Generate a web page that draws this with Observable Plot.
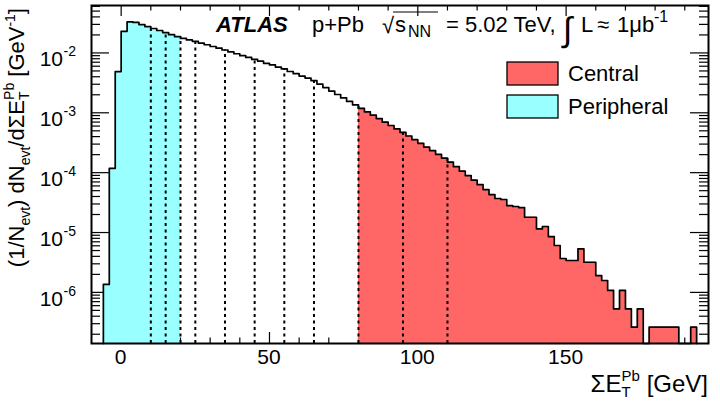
<!DOCTYPE html>
<html>
<head>
<meta charset="utf-8">
<script src="https://cdn.jsdelivr.net/npm/d3@7"></script>
<script src="https://cdn.jsdelivr.net/npm/@observablehq/plot@0.6"></script>
<style>
  html, body { margin: 0; padding: 0; background: #fff; }
  #chart svg { display: block; }
</style>
</head>
<body>
<div id="chart"></div>
<script>
// Sum of transverse energy on the Pb-going side, per-event normalised, 2 GeV bins from -6 GeV
const binLowEdge = -6;
const binWidth = 2;
const density = [
  1.36e-6, 1.18e-4, 4.88e-3, 0.0230, 0.0330, 0.0323, 0.0298, 0.0276, 0.0256, 0.0237,
  0.0219, 0.0202, 0.0187, 0.0175, 0.0165, 0.0156, 0.0146, 0.0137, 0.0128, 0.0120,
  0.0112, 0.0104, 0.0097, 0.0090, 0.0084, 0.0078, 0.0073, 0.0067, 0.0063, 0.0058,
  0.0054, 0.0049, 0.0045, 0.0041, 0.0038, 0.00345, 0.00302, 0.00264, 0.00231, 0.00202,
  0.00177, 0.00155, 0.00136, 0.00119, 0.00104, 0.000913, 0.000800, 0.000701, 0.000614, 0.000538,
  0.000472, 0.000410, 0.000356, 0.000309, 0.000268, 0.000233, 0.000202, 0.000175, 0.000150, 0.000126,
  0.000106, 8.95e-5, 7.52e-5, 6.32e-5, 5.22e-5, 4.31e-5, 3.70e-5, 3.56e-5, 2.82e-5, 2.72e-5,
  2.61e-5, 1.80e-5, 1.80e-5, 1.15e-5, 1.26e-5, 8.57e-6, 6.07e-6, 3.68e-6, 3.41e-6, 3.41e-6,
  5.35e-6, 3.19e-6, 3.19e-6, 1.91e-6, 1.58e-6, 1.08e-6, 5.32e-7, 1.08e-6, 5.32e-7, 2.62e-7,
  5.32e-7, 0, 2.62e-7, 2.62e-7, 2.62e-7, 2.62e-7, 2.62e-7, 0, 0, 2.62e-7
];

// Centrality class boundaries (GeV)
const cutEdges = [10, 15, 20, 25, 35, 45, 55, 65, 80, 95, 110];
const peripheralMax = 20;
const centralMin = 80;

// Axis ticks
const xTickLabels = [0, 50, 100, 150];
const yDecades = [-6, -5, -4, -3, -2];

const legendEntries = [
  {label: "Central", fill: "#ff6666"},
  {label: "Peripheral", fill: "#99ffff"}
];

const W = 720, H = 401;
const mL = 91, mR = 12, mT = 5, mB = 58;
const innerW = W - mL - mR, innerH = H - mT - mB;
const xDomain = [-10, 198];
const yMin = 1.4e-7, yMax = 0.062;

const bins = density.map((v, i) => ({
  x1: binLowEdge + i * binWidth,
  x2: binLowEdge + (i + 1) * binWidth,
  v
}));
const shown = v => (v > 0 ? v : yMin);

// step outline of the whole histogram
const outline = [
  {x: bins[0].x1, y: yMin},
  ...bins.map(b => ({x: b.x1, y: shown(b.v)})),
  {x: bins[bins.length - 1].x2, y: yMin}
];

function region(filter, endX) {
  const sel = bins.filter(filter);
  const pts = sel.map(b => ({x: b.x1, y: shown(b.v)}));
  pts.push({x: endX, y: shown(sel[sel.length - 1].v)});
  return pts;
}
const peripheralPts = region(b => b.x2 <= peripheralMax, peripheralMax);
const centralPts = region(b => b.x1 >= centralMin, bins[bins.length - 1].x2);

// height of the distribution at a boundary (taller of the touching bins)
function heightAt(x) {
  const touching = bins.filter(b => b.x1 <= x && x <= b.x2);
  return d3.max(touching, b => shown(b.v));
}

// tick positions
const xMajor = xTickLabels;
const xMinor = d3.range(-10, 200, 10).filter(v => v % 50 !== 0 && v > xDomain[0] && v < xDomain[1]);
const yMajor = yDecades.map(k => Math.pow(10, k));
const yMinor = [];
for (let k = -7; k <= -2; k++) {
  for (let m = 2; m <= 9; m++) {
    const v = m * Math.pow(10, k);
    if (v > yMin && v < yMax) yMinor.push(v);
  }
}

const tickStyle = {stroke: "black", strokeWidth: 1.2};

const chart = Plot.plot({
  width: W,
  height: H,
  marginLeft: mL,
  marginRight: mR,
  marginTop: mT,
  marginBottom: mB,
  style: {fontFamily: "'Liberation Sans', Arial, Helvetica, sans-serif", background: "white"},
  x: {domain: xDomain, axis: null},
  y: {type: "log", domain: [yMin, yMax], axis: null},
  marks: [
    // ticks (drawn under the filled regions)
    Plot.tickX(xMajor, {x: d => d, insetTop: innerH - 11, ...tickStyle}),
    Plot.tickX(xMinor, {x: d => d, insetTop: innerH - 5.5, ...tickStyle}),
    Plot.tickX(xMajor, {x: d => d, insetBottom: innerH - 11, ...tickStyle}),
    Plot.tickX(xMinor, {x: d => d, insetBottom: innerH - 5.5, ...tickStyle}),
    Plot.tickY(yMajor, {y: d => d, insetRight: innerW - 18, ...tickStyle}),
    Plot.tickY(yMinor, {y: d => d, insetRight: innerW - 9, ...tickStyle}),
    Plot.tickY(yMajor, {y: d => d, insetLeft: innerW - 18, ...tickStyle}),
    Plot.tickY(yMinor, {y: d => d, insetLeft: innerW - 9, ...tickStyle}),
    // peripheral and central selections
    Plot.area(peripheralPts, {x1: "x", y1: () => yMin, y2: "y", curve: "step-after", fill: "#99ffff"}),
    Plot.area(centralPts, {x1: "x", y1: () => yMin, y2: "y", curve: "step-after", fill: "#ff6666"}),
    // histogram outline
    Plot.line(outline, {x: "x", y: "y", curve: "step-after", stroke: "black", strokeWidth: 1.7}),
    // class boundaries
    Plot.ruleX(cutEdges, {x: d => d, y1: () => yMin, y2: d => heightAt(d),
      stroke: "black", strokeWidth: 2, strokeDasharray: "3,3.5"}),
    Plot.frame({stroke: "black", strokeWidth: 2})
  ]
});

document.getElementById("chart").appendChild(chart);

const svg = d3.select(chart);
const xs = chart.scale("x");
const ys = chart.scale("y");
const font = "'Liberation Sans', Arial, Helvetica, sans-serif";

function label(parent, x, y, size) {
  return parent.append("text")
    .attr("font-family", font).attr("font-size", size)
    .attr("text-anchor", "start").attr("fill", "black")
    .attr("x", x).attr("y", y);
}

// x tick labels
xTickLabels.forEach(d => {
  label(svg, xs.apply(d), mT + innerH + 21, 21).attr("text-anchor", "middle").text(d);
});

// y tick labels 10^k
yDecades.forEach(k => {
  const py = ys.apply(Math.pow(10, k));
  label(svg, 63, py + 14, 21).attr("text-anchor", "end").text("10");
  label(svg, 63.5, py + 4, 14).text(String(k));
});

// x axis title
const xt = label(svg, mL + innerW, 392, 24).attr("text-anchor", "end");
xt.append("tspan").text("ΣE");
xt.append("tspan").attr("font-size", 15).attr("dy", 5).text("T");
xt.append("tspan").attr("font-size", 15).attr("dx", -9).attr("dy", -16).text("Pb");
xt.append("tspan").attr("dy", 11).text(" [GeV]");

// y axis title
const yt = svg.append("text").attr("font-family", font).attr("font-size", 22)
  .attr("transform", "translate(24,8) rotate(-90)").attr("text-anchor", "end");
yt.append("tspan").text("(1/N");
yt.append("tspan").attr("font-size", 14).attr("dy", 6).text("evt");
yt.append("tspan").attr("dy", -6).text(") dN");
yt.append("tspan").attr("font-size", 14).attr("dy", 6).text("evt");
yt.append("tspan").attr("dy", -6).text("/dΣE");
yt.append("tspan").attr("font-size", 14).attr("dy", 5).text("T");
yt.append("tspan").attr("font-size", 14).attr("dx", -8.5).attr("dy", -15).text("Pb");
yt.append("tspan").attr("dy", 10).text(" [GeV");
yt.append("tspan").attr("font-size", 14).attr("dy", -9).text("-1");
yt.append("tspan").attr("dy", 9).text("]");

// experiment label
const base = 32;
label(svg, 216, base, 22).attr("font-weight", "bold").attr("font-style", "italic").text("ATLAS");
label(svg, 312, base, 22).text("p+Pb");
label(svg, 382, base + 1, 22).text("√");
label(svg, 395, base, 22).text("s");
label(svg, 408, base + 5, 16).text("NN");
svg.append("line").attr("x1", 393).attr("x2", 438).attr("y1", 12).attr("y2", 12)
  .attr("stroke", "black").attr("stroke-width", 1.2);
label(svg, 446, base, 22).text("= 5.02 TeV,");
label(svg, 563, base + 9, 34).text("∫");
label(svg, 581, base, 22).text("L");
label(svg, 597, base, 22).text("≈");
label(svg, 617, base, 22).text("1μb");
label(svg, 654, base - 10, 16).text("-1");

// legend
legendEntries.forEach((e, i) => {
  const top = 62 + i * 33;
  svg.append("rect").attr("x", 507).attr("y", top).attr("width", 51).attr("height", 23)
    .attr("fill", e.fill).attr("stroke", "black").attr("stroke-width", 1.3);
  label(svg, 568, top + 19, 22).text(e.label);
});
</script>
</body>
</html>
